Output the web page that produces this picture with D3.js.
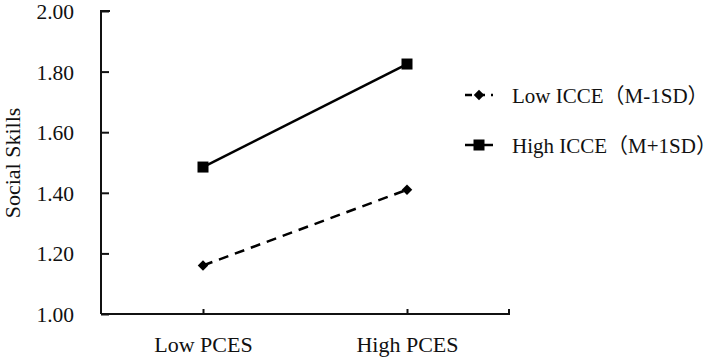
<!DOCTYPE html>
<html lang="en">
<head>
  <meta charset="UTF-8">
  <title>Social Skills interaction</title>
  <script src="https://d3js.org/d3.v7.min.js"></script>
  <style>
    body {
      margin: 0;
      padding: 0;
      background: #fff;
    }
    svg text {
      font-family: "Liberation Serif", "Times New Roman", "Noto Sans CJK SC", serif;
      fill: #111;
    }
  </style>
</head>
<body>
  <div id="chart"></div>

  <script>
  // data
  const categories = ["Low PCES", "High PCES"];
  const seriesNames = ["Low ICCE（M-1SD）", "High ICCE（M+1SD）"];
  const lowIcce = [1.16, 1.41];
  const highIcce = [1.485, 1.825];
  const yTicks = [1.0, 1.2, 1.4, 1.6, 1.8, 2.0];

  const width = 724, height = 360;
  const svg = d3.select("#chart").append("svg")
    .attr("width", width).attr("height", height);

  const x = d3.scalePoint().domain(categories).range([101, 509]).padding(0.5);
  const y = d3.scaleLinear().domain([1, 2]).range([314, 11]);

  // y axis
  const yAxis = svg.append("g").attr("transform", "translate(101,0)")
    .call(d3.axisLeft(y).tickValues(yTicks).tickSize(-8).tickPadding(0).tickFormat(d3.format(".2f")));
  yAxis.select(".domain").attr("d", `M9,${y(2)}H0V${y(1)}`);
  yAxis.selectAll("path, line").attr("stroke", "#111").attr("stroke-width", 2);
  yAxis.selectAll("text").attr("x", -27).attr("dy", "0.35em")
    .style("font-size", "21.5px").attr("fill", "#111");

  // x axis
  const xAxis = svg.append("g").attr("transform", `translate(0,${y(1)})`)
    .call(d3.axisBottom(x).tickSize(-5).tickPadding(0));
  xAxis.select(".domain").attr("d", `M101,0H509V-5`);
  xAxis.selectAll("path, line").attr("stroke", "#111").attr("stroke-width", 2);
  xAxis.selectAll("text").attr("y", 38).attr("dy", 0)
    .style("font-size", "22px").attr("fill", "#111");

  svg.append("text")
    .attr("transform", "translate(20,163) rotate(-90)")
    .attr("text-anchor", "middle")
    .style("font-size", "22px")
    .text("Social Skills");

  const series = [
    { name: seriesNames[0], values: lowIcce, dash: "10,7", marker: "diamond" },
    { name: seriesNames[1], values: highIcce, dash: null, marker: "square" }
  ];

  const line = d3.line().x((d, i) => x(categories[i])).y(d => y(d));
  const diamond = d3.symbol().type(d3.symbolDiamond2).size(70);

  function drawMarker(g, type, cx, cy) {
    if (type === "square") {
      g.append("rect").attr("x", cx - 5.5).attr("y", cy - 5.5)
        .attr("width", 11).attr("height", 11).attr("fill", "#000");
    } else {
      g.append("path").attr("d", diamond())
        .attr("transform", `translate(${cx},${cy})`).attr("fill", "#000");
    }
  }

  series.forEach(s => {
    svg.append("path")
      .attr("d", line(s.values))
      .attr("fill", "none")
      .attr("stroke", "#000")
      .attr("stroke-width", 2.5)
      .attr("stroke-dasharray", s.dash);
    const g = svg.append("g");
    s.values.forEach((v, i) => drawMarker(g, s.marker, x(categories[i]), y(v)));
  });

  // legend
  const legend = svg.append("g").attr("transform", "translate(465,95)");
  series.forEach((s, i) => {
    const row = legend.append("g").attr("transform", `translate(0,${i * 50})`);
    row.append("line").attr("x1", 0).attr("x2", 28)
      .attr("stroke", "#000").attr("stroke-width", 2.5)
      .attr("stroke-dasharray", s.dash ? "7,6" : null);
    drawMarker(row, s.marker, 14, 0);
    row.append("text").attr("x", 47).attr("y", 8)
      .style("font-size", "21px")
      .text(s.name);
  });
  </script>
</body>
</html>
